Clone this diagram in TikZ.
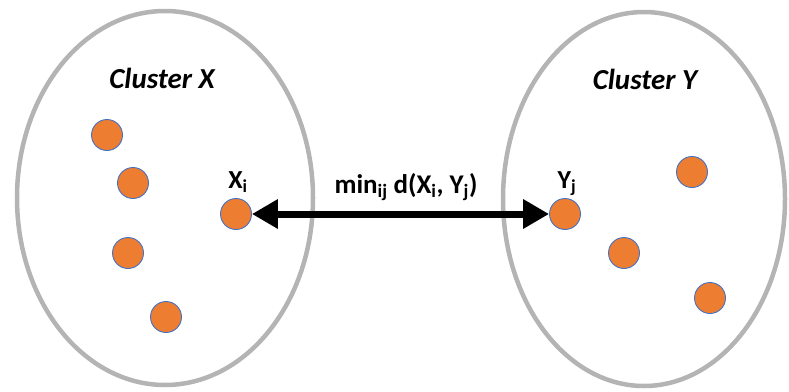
\documentclass[tikz,border=0pt]{standalone}
\usepackage{fontspec}
\setmainfont{Carlito}
\usetikzlibrary{arrows.meta}
\definecolor{ringgray}{RGB}{180,180,180}
\definecolor{dotorange}{RGB}{237,125,49}
\definecolor{dotblue}{RGB}{68,114,196}
\begin{document}
\begin{tikzpicture}[x=1pt,y=-1pt,
  ring/.style={draw=ringgray,line width=4.5pt},
  pt/.style={circle,fill=dotorange,draw=dotblue,line width=0.9pt,minimum size=31pt,inner sep=0pt},
  title/.style={font=\fontsize{29}{32}\selectfont\bfseries\itshape,inner sep=0pt},
  lab/.style={font=\fontsize{26}{30}\selectfont\bfseries,inner sep=0pt,anchor=base},
  link/.style={line width=7pt,{Triangle[length=26pt,width=28pt]}-{Triangle[length=26pt,width=28pt]}}]
\useasboundingbox (0,0) rectangle (789,391);
% the two clusters
\draw[ring] (165,198) ellipse [x radius=148, y radius=187];
\draw[ring] (644,199) ellipse [x radius=141, y radius=187];
\node[title] (cx) at (162,78) {Cluster X};
\node[title] (cy) at (645,79) {Cluster Y};
% points of cluster X
\node[pt] (x1) at (107,135) {};
\node[pt] (x2) at (133,183) {};
\node[pt] (x3) at (128,253) {};
\node[pt] (x4) at (166,317) {};
\node[pt] (xi) at (236,214) {};
% points of cluster Y
\node[pt] (yj) at (565,214) {};
\node[pt] (y1) at (692,172) {};
\node[pt] (y2) at (624,253) {};
\node[pt] (y3) at (710,298) {};
% labels of the closest pair
\node[lab] (lxi) at (238,188) {X\textsubscript{i}};
\node[lab] (lyj) at (567,188) {Y\textsubscript{j}};
% single-linkage distance
\draw[link] (xi.east) -- (yj.west);
\node[lab,font=\fontsize{27}{30}\selectfont\bfseries] (dist) at (406,193) {min\textsubscript{ij} d(X\textsubscript{i}, Y\textsubscript{j})};
\end{tikzpicture}
\end{document}
